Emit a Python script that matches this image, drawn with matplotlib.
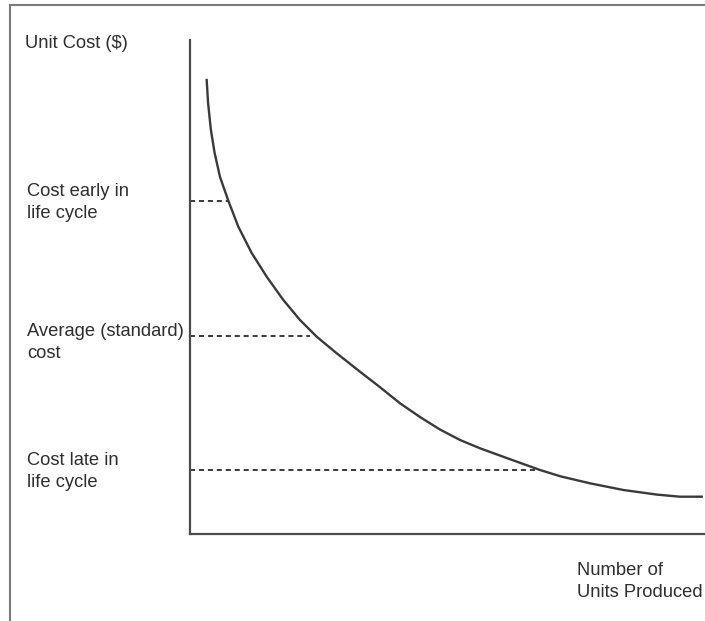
import matplotlib
matplotlib.use("Agg")
import matplotlib.pyplot as plt
from matplotlib.lines import Line2D

plt.rcParams['font.family'] = ['Liberation Sans', 'DejaVu Sans']

# learning curve (units produced 0-100, cost 0-100)
units = [3.24, 3.51, 4.06, 4.78, 5.83, 7.44, 9.38, 11.98, 14.89, 18.12,
         21.36, 24.60, 28.49, 33.01, 36.89, 40.78, 44.66, 48.54, 52.43, 56.31,
         61.50, 67.96, 71.84, 77.67, 84.14, 90.62, 95.15, 99.36]
cost = [91.90, 87.25, 81.78, 77.13, 72.27, 67.47, 62.21, 56.88, 52.09, 47.37,
        43.32, 39.94, 36.58, 32.85, 29.72, 26.46, 23.68, 21.15, 19.03, 17.35,
        15.38, 12.96, 11.70, 10.26, 8.91, 7.98, 7.55, 7.55]

# dashed reference levels and where they meet the curve
level_names = ["Cost early in\nlife cycle", "Average (standard)\ncost", "Cost late in\nlife cycle"]
level_cost = [67.41, 40.14, 12.96]
level_units = [7.38, 23.30, 67.96]

W, H = 705, 621
fig = plt.figure(figsize=(W / 100, H / 100), dpi=100)
fig.patch.set_facecolor("white")

ink = "#3a3a3a"
ax = fig.add_axes([190 / W, (H - 534) / H, (W - 190) / W, (534 - 40) / H])
ax.plot(units, cost, color=ink, lw=1.7, solid_joinstyle="round")
for c, u in zip(level_cost, level_units):
    ax.plot([0, u], [c, c], color=ink, lw=1.4, linestyle=(0, (2.6, 2.0)))

ax.set_xlim(0, 100)
ax.set_ylim(0, 100)
ax.set_xticks([])
ax.set_yticks([])
for s in ["top", "right"]:
    ax.spines[s].set_visible(False)
for s in ["left", "bottom"]:
    ax.spines[s].set_color("#4a4a4a")
    ax.spines[s].set_linewidth(1.6)

# outer frame of the scanned figure
fig.add_artist(Line2D([9.5 / W, 1], [1 - 5 / H, 1 - 5 / H], color="#7a7a7a", lw=1.5))
fig.add_artist(Line2D([9.5 / W, 9.5 / W], [0, 1 - 5 / H], color="#7a7a7a", lw=1.5))

fs = 13.2
def label(x, ytop, s):
    fig.text(x / W, 1 - ytop / H, s, ha="left", va="top", fontsize=fs,
             color="#2e2e2e", linespacing=1.36)

label(25, 35, "Unit Cost ($)")
label_tops = [183, 323, 452]
for name, top in zip(level_names, label_tops):
    label(27, top, name)
label(577, 562, "Number of\nUnits Produced")

fig.savefig("out.png", dpi=100)
